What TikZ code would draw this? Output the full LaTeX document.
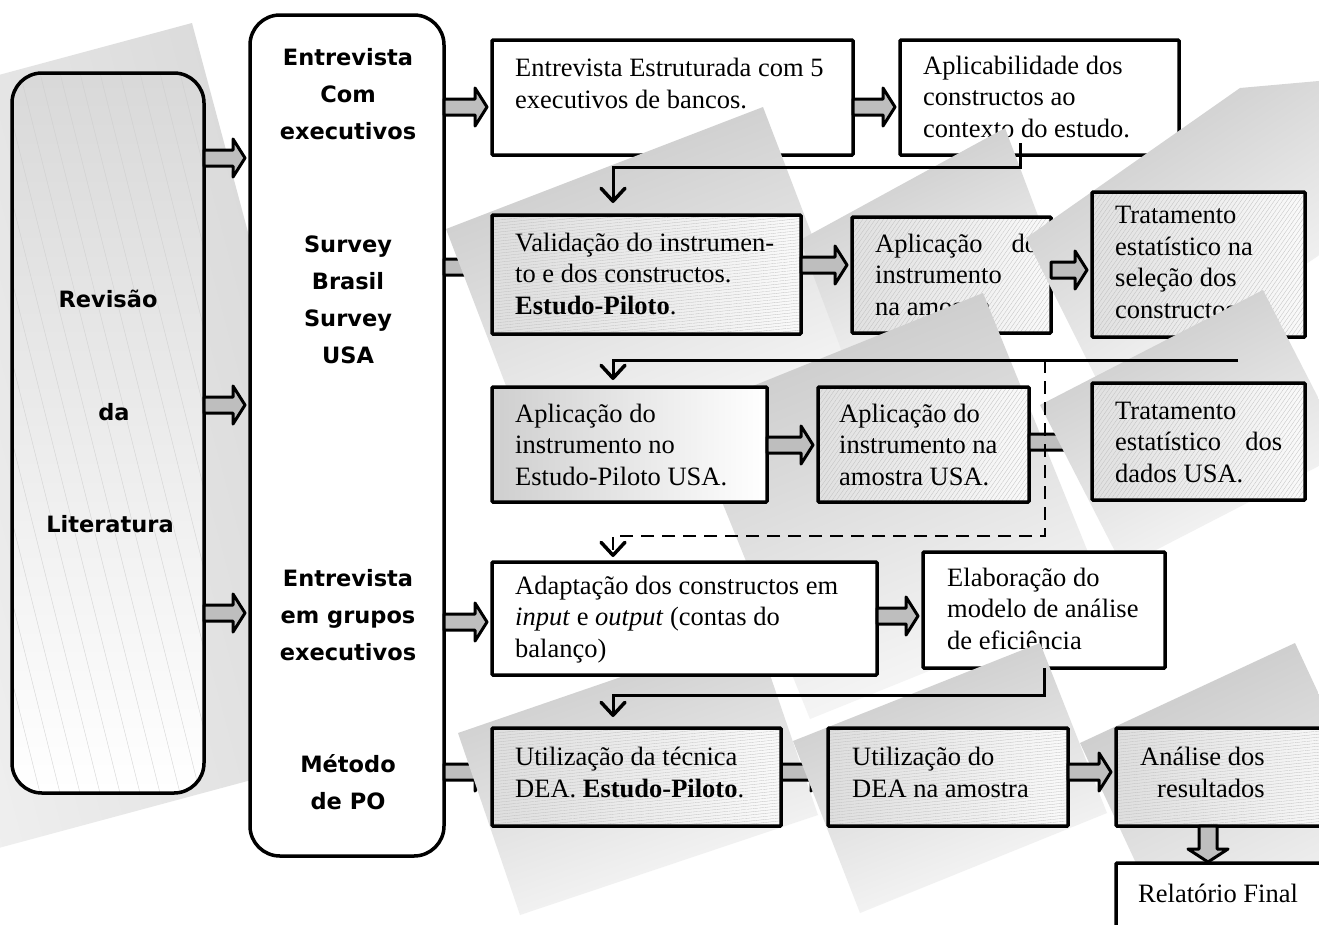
\documentclass[tikz,border=0pt]{standalone}
\usepackage{fontspec}
\setmainfont{Liberation Serif}
\newfontfamily\headsans{DejaVu Sans}
\usetikzlibrary{arrows.meta,patterns.meta,calc}

\definecolor{arrowgray}{HTML}{BEBEBE}

\tikzset{
  frame/.style={anchor=north west, inner sep=0pt, outer sep=0pt},
  boxline/.style={draw, line width=3.5pt, rounded corners=1pt},
  plainpaint/.style={boxline, fill=white},
  hpaint/.style={boxline, preaction={left color=gray!26, right color=gray!4},
     pattern={Lines[angle=6,distance=3pt,line width=0.3pt]}, pattern color=gray!50},
  dpaint/.style={boxline, preaction={left color=gray!24, right color=gray!4},
     pattern={Lines[angle=55,distance=3.4pt,line width=0.3pt]}, pattern color=gray!50},
  softpaint/.style={boxline, left color=gray!38, right color=white},
  roundpaint/.style={draw, line width=3.5pt, rounded corners=30pt},
  % the base anchor of a multi-line node sits on its last line
  txt/.style={anchor=base west, inner sep=0pt, align=left,
     font=\fontsize{26.5}{31.5}\selectfont},
  sanstxt/.style={anchor=base, inner sep=0pt, align=center,
     font=\headsans\bfseries\fontsize{22.5}{37}\selectfont},
  barb/.style={-{Straight Barb[length=13pt,width=24pt,line width=3.5pt,round]}},
  flow/.style={line width=3pt, barb},
  dashflow/.style={line width=2pt, dash pattern=on 13pt off 8pt, barb},
  blockarrow/.style={draw, line width=3pt, fill=arrowgray, line join=round},
  pane/.style={top color=gray!42, bottom color=gray!4},
  hatchline/.style={gray!40, line width=0.3pt},
}

% paint the frame of node #1 with style #2
\newcommand\paint[2]{\path[#2] (#1.north west) rectangle (#1.south east);}
% horizontal block arrow from the east side of #1 to the west side of #2, at height #3
\newcommand\harrow[3]{%
  \draw[blockarrow] let \p1=(#1.east), \p2=(#2.west) in
    (\x1,-#3pt+8pt) -- (\x2-17pt,-#3pt+8pt) -- (\x2-17pt,-#3pt+19pt)
    -- (\x2-5pt,-#3pt) -- (\x2-17pt,-#3pt-19pt) -- (\x2-17pt,-#3pt-8pt)
    -- (\x1,-#3pt-8pt) -- cycle;}
% vertical block arrow from the south side of #1 to the north side of #2, at x #3
\newcommand\varrow[3]{%
  \draw[blockarrow] let \p1=(#1.south), \p2=(#2.north) in
    (#3pt-9pt,\y1) -- (#3pt-9pt,\y2+14pt) -- (#3pt-20pt,\y2+14pt)
    -- (#3pt,\y2+1pt) -- (#3pt+20pt,\y2+14pt) -- (#3pt+9pt,\y2+14pt)
    -- (#3pt+9pt,\y1) -- cycle;}

\begin{document}
\begin{tikzpicture}[x=1pt,y=-1pt]
\useasboundingbox (0,0) rectangle (1319,924);
\fill[white] (0,0) rectangle (1319,924);

% frames, placed first and painted later in stacking order
\node[frame, minimum width=192pt, minimum height=720pt] (lit) at (12,73) {};
\node[frame, minimum width=194pt, minimum height=841pt] (mid) at (250,15) {};
\node[frame, minimum width=361pt, minimum height=115pt] (A) at (492,40) {};
\node[frame, minimum width=279pt, minimum height=115pt] (B) at (900,40) {};
\node[frame, minimum width=309pt, minimum height=119pt] (C) at (492,215) {};
\node[frame, minimum width=199pt, minimum height=116pt] (D) at (852,217) {};
\node[frame, minimum width=213pt, minimum height=145pt] (E) at (1092,192) {};
\node[frame, minimum width=275pt, minimum height=115pt] (F) at (492,387) {};
\node[frame, minimum width=211pt, minimum height=115pt] (G) at (818,387) {};
\node[frame, minimum width=213pt, minimum height=117pt] (H) at (1092,383) {};
\node[frame, minimum width=385pt, minimum height=113pt] (I) at (492,562) {};
\node[frame, minimum width=242pt, minimum height=116pt] (J) at (923,552) {};
\node[frame, minimum width=289pt, minimum height=98pt] (K) at (492,728) {};
\node[frame, minimum width=240pt, minimum height=98pt] (L) at (828,728) {};
\node[frame, minimum width=230pt, minimum height=98pt] (M) at (1116,728) {};
\node[frame, minimum width=230pt, minimum height=90pt] (N) at (1116,863) {};

% tilted pane behind the literature column
\shade[left color=gray!5, right color=gray!32, shading angle=105]
  (192,23) -- (-291,153) -- (-98,874) -- (385,744) -- cycle;

% literature column
\path[top color=gray!30, bottom color=white, rounded corners=30pt]
  (lit.north west) rectangle (lit.south east);
\begin{scope}
  \clip[rounded corners=30pt] (lit.north west) rectangle (lit.south east);
  \foreach \x in {-160,-140,...,210} \draw[hatchline] (\x,73) -- ++(180,720);
\end{scope}
\paint{lit}{roundpaint}
\node[sanstxt] (litA) at (108,307) {Revisão};
\node[sanstxt] (litB) at (114,420) {da};
\node[sanstxt] (litC) at (110,532) {Literatura};

% method column
\paint{mid}{roundpaint, fill=white}
\node[sanstxt] (midA) at (348,139) {Entrevista\\Com\\executivos};
\node[sanstxt] (midB) at (348,363) {Survey\\Brasil\\Survey\\USA};
\node[sanstxt] (midC) at (348,660) {Entrevista\\em grupos\\executivos};
\node[sanstxt] (midD) at (348,809) {Método\\de PO};

\harrow{lit}{mid}{158}
\harrow{lit}{mid}{405}
\harrow{lit}{mid}{613}

% row 1
\paint{A}{plainpaint}
\node[txt] (At) at (515,108) {Entrevista Estruturada com 5\\executivos de bancos.};
\paint{B}{plainpaint}
\node[txt] (Bt) at (923,137) {Aplicabilidade dos\\constructos ao\\contexto do estudo.};
\harrow{mid}{A}{107}
\harrow{A}{B}{107}
\harrow{mid}{C}{267}

\shade[pane, shading angle=21] (763,107) -- (446,229) -- (539,472) -- (856,350) -- cycle;
\shade[pane, shading angle=25] (1005,128) -- (800,240) -- (853,381) -- (1058,269) -- cycle;

\coordinate (b1) at (1020,143);
\draw[flow] (b1) -- ++(0,24) -| ($(C.north west)+(121,-12)$);

% row 2
\paint{C}{hpaint}
\node[txt] (Ct) at (515,314) {Validação do instrumen-\\to e dos constructos.\\\textbf{Estudo-Piloto}.};
\paint{D}{dpaint}
\node[txt] (Dt) at (875,315) {\hbox to 163pt{Aplicação\hfill do}\\instrumento\\na amostra};
\harrow{C}{D}{265}

\shade[pane, shading angle=33] (1240,88) -- (1026,238) -- (1106,398) -- (1330,248) -- (1330,80) -- cycle;

\paint{E}{dpaint}
\node[txt] (Et) at (1115,318) {Tratamento\\estatístico na\\seleção dos\\constructos};
\harrow{D}{E}{270}

\shade[pane, shading angle=22] (983,293) -- (686,413) -- (810,719) -- (1107,599) -- cycle;

% row 3
\paint{F}{softpaint}
\node[txt] (Ft) at (515,485) {Aplicação do\\instrumento no\\Estudo-Piloto USA.};
\paint{G}{dpaint}
\node[txt] (Gt) at (839,485) {Aplicação do\\instrumento na\\amostra USA.};
\harrow{F}{G}{445}
\harrow{G}{H}{442}

\shade[pane, shading angle=27] (1263,290) -- (1040,405) -- (1123,567) -- (1346,452) -- cycle;

\paint{H}{dpaint}
\node[txt] (Ht) at (1115,482) {Tratamento\\\hbox to 167pt{estatístico\hfill dos}\\dados USA.};

\coordinate (e1) at (1238,360);
\draw[flow] (e1) -| ($(F.north west)+(121,-7)$);
\coordinate (d1) at (1045,360);
\draw[dashflow] (d1) |- ($(I.north west)+(121,-26)$) -- ($(I.north west)+(121,-5)$);

% row 4
\harrow{mid}{K}{772}
\shade[pane, shading angle=19] (755,631) -- (458,733) -- (520,915) -- (818,815) -- cycle;

\paint{I}{plainpaint}
\node[txt] (It) at (515,657) {Adaptação dos constructos em\\\textit{input} e \textit{output} (contas do\\balanço)};
\paint{J}{plainpaint}
\node[txt] (Jt) at (947,649) {Elaboração do\\modelo de análise\\de eficiência};
\harrow{mid}{I}{622}
\harrow{I}{J}{616}

\harrow{K}{L}{772}
\shade[pane, shading angle=21] (1040,643) -- (793,741) -- (860,913) -- (1107,813) -- cycle;

\draw[flow] ($(J.south west)+(121,0)$) -- ++(0,27) -| ($(K.north west)+(121,-11)$);

% row 5
\paint{K}{hpaint}
\node[txt] (Kt) at (515,797) {Utilização da técnica\\DEA. \textbf{Estudo-Piloto}.};
\paint{L}{hpaint}
\node[txt] (Lt) at (852,797) {Utilização do\\DEA na amostra};

\shade[pane, shading angle=25] (1295,643) -- (1080,743) -- (1190,979) -- (1405,879) -- cycle;

\paint{M}{hpaint}
\node[txt] (Mt) at (1140,797) {Análise dos\\\hspace*{17pt}resultados};
\paint{N}{plainpaint}
\node[txt] (Nt) at (1138,902) {Relatório Final};
\harrow{L}{M}{772}
\varrow{M}{N}{1208}

\end{tikzpicture}
\end{document}
